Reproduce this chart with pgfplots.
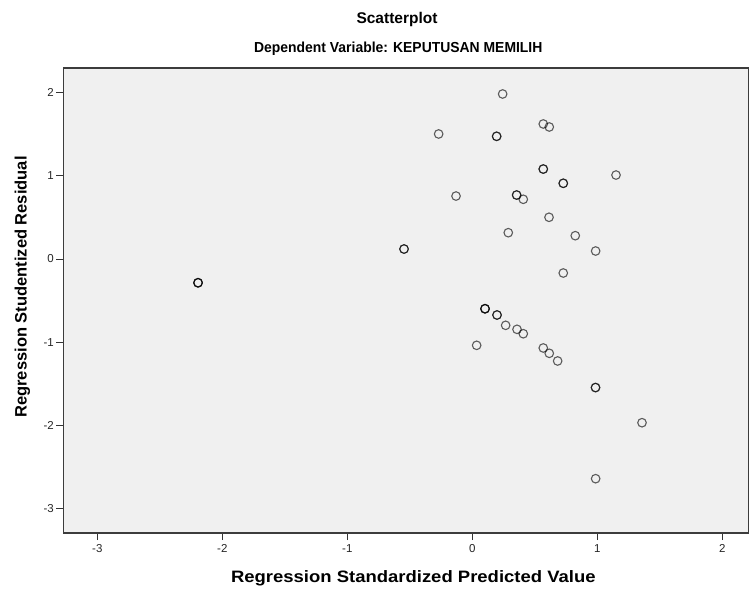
\documentclass[border=0pt]{standalone}
\usepackage{pgfplots}
\pgfplotsset{compat=1.18}
\usepackage{fontspec}
\setmainfont{Liberation Sans}
\definecolor{plotbg}{HTML}{F0F0F0}
\definecolor{framecol}{HTML}{3C3C3C}
\definecolor{tickcol}{HTML}{333333}

% residuals vs predicted values (repeated rows = overlapping cases)
\pgfplotstableread{
x y
0.243 1.981
-0.269 1.501
0.195 1.473
0.195 1.473
0.568 1.621
0.616 1.585
0.568 1.080
0.568 1.080
0.728 0.909
0.728 0.909
1.150 1.008
-0.130 0.756
0.355 0.768
0.355 0.768
0.408 0.717
0.614 0.501
0.288 0.316
0.824 0.280
0.987 0.096
0.728 -0.168
-0.546 0.120
-0.546 0.120
-2.194 -0.285
-2.194 -0.285
-2.194 -0.285
0.102 -0.597
0.102 -0.597
0.102 -0.597
0.198 -0.672
0.198 -0.672
0.267 -0.796
0.358 -0.844
0.408 -0.897
0.035 -1.036
0.568 -1.068
0.616 -1.132
0.683 -1.224
0.986 -1.543
0.986 -1.543
1.358 -1.965
0.987 -2.637
}\resid

\begin{document}
\begin{tikzpicture}
\begin{axis}[
    at={(0pt,0pt)}, anchor=south west,
    scale only axis,
    width=685.7pt, height=465pt,
    xmin=-3.272, xmax=2.214,
    ymin=-3.289, ymax=2.293,
    axis background/.style={fill=plotbg},
    axis line style={framecol, line width=1.2pt},
    xtick={-3,-2,-1,0,1,2},
    ytick={-3,-2,-1,0,1,2},
    tick align=outside,
    tick pos=left,
    major tick length=7pt,
    tick style={tickcol, line width=0.9pt},
    ticklabel style={font=\fontsize{11.5}{13}\selectfont, text=black!85},
    /pgf/number format/assume math mode=true,
    xticklabel style={yshift=-1pt},
    yticklabel style={xshift=1pt},
]
\addplot[only marks, mark=o, mark size=4.3pt,
    mark options={draw=black, draw opacity=0.62, line width=1.1pt}]
    table[x=x, y=y] {\resid};
\end{axis}
\node[font=\bfseries\fontsize{15.5}{17}\selectfont] at (333.7pt,514pt) {Scatterplot};
\node[font=\bfseries\fontsize{14.5}{16}\selectfont, xscale=0.96] at (335pt,484pt) {Dependent Variable: KEPUTUSAN MEMILIH};
\node[font=\bfseries\fontsize{16.5}{18}\selectfont, xscale=1.12] at (350pt,-45pt) {Regression Standardized Predicted Value};
\node[font=\bfseries\fontsize{16.5}{18}\selectfont, rotate=90] at (-41pt,246pt) {Regression Studentized Residual};
\pgfresetboundingbox
\useasboundingbox (-63.3pt,-57pt) rectangle (685.7pt,533pt);
\end{tikzpicture}
\end{document}
